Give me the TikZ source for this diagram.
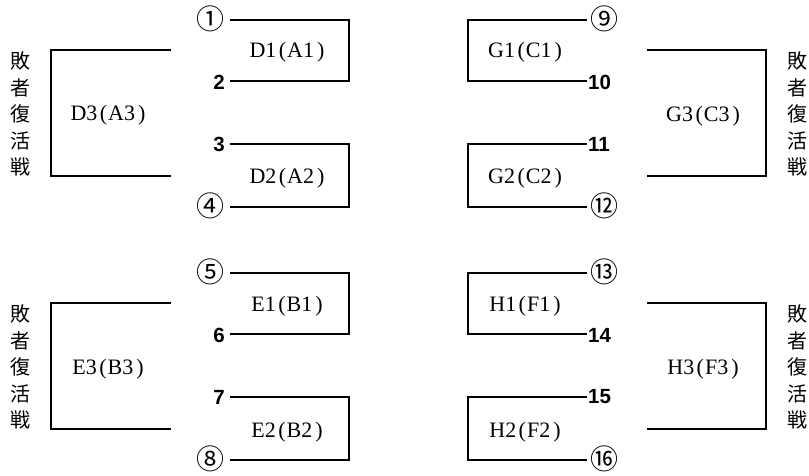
\documentclass[tikz,border=0pt]{standalone}
\usepackage{fontspec}
\setmainfont{Liberation Serif}
\newfontfamily\cjk{Noto Sans CJK JP}
\newfontfamily\numf{Liberation Sans}
\newcommand\lpar{\hspace{2.5pt}(\hspace{1pt}}
\newcommand\rpar{\hspace{3pt})}
\begin{document}
\begin{tikzpicture}[x=1pt,y=-1pt,
  br/.style={line width=1.6pt},
  mlab/.style={font=\fontsize{22}{24}\selectfont, inner sep=0pt},
  numl/.style={font=\numf\bfseries\fontsize{20.5}{21}\selectfont, inner sep=1pt},
  circl/.style={font=\cjk\fontsize{28}{28}\selectfont, inner sep=0pt},
  vtext/.style={font=\cjk\fontsize{20}{26.5}\selectfont, align=center, inner sep=0pt}]
\useasboundingbox (0,0) rectangle (809,476);

% ---------- top-left: D ----------
\coordinate (p1) at (230,20);  \coordinate (p2) at (230,81);
\coordinate (p3) at (230,144); \coordinate (p4) at (230,207);
\node[circl, anchor=east] (l1) at (225,19) {①};
\node[numl, anchor=east] (l2) at (226,82) {2};
\node[numl, anchor=east] (l3) at (226,144) {3};
\node[circl, anchor=east] (l4) at (225,206) {④};
\draw[br] (p1) -- (349,20) |- (p2);
\draw[br] (p3) -- (349,144) |- (p4);
\coordinate (d3a) at (171,50); \coordinate (d3b) at (171,176);
\draw[br] (d3a) -- (51,50) |- (d3b);
\node[mlab] (d1) at (287,52) {D1\lpar A1\rpar};
\node[mlab] (d2) at (287,178) {D2\lpar A2\rpar};
\node[mlab] (d3) at (108,115) {D3\lpar A3\rpar};
\node[vtext] (vd) at (20,114) {敗\\者\\復\\活\\戦};

% ---------- bottom-left: E ----------
\coordinate (p5) at (230,273); \coordinate (p6) at (230,334);
\coordinate (p7) at (230,397); \coordinate (p8) at (230,460);
\node[circl, anchor=east] (l5) at (225,272) {⑤};
\node[numl, anchor=east] (l6) at (226,335) {6};
\node[numl, anchor=east] (l7) at (226,397) {7};
\node[circl, anchor=east] (l8) at (225,459) {⑧};
\draw[br] (p5) -- (349,273) |- (p6);
\draw[br] (p7) -- (349,397) |- (p8);
\coordinate (e3a) at (171,303); \coordinate (e3b) at (171,429);
\draw[br] (e3a) -- (51,303) |- (e3b);
\node[mlab] (e1) at (287,306) {E1\lpar B1\rpar};
\node[mlab] (e2) at (287,432) {E2\lpar B2\rpar};
\node[mlab] (e3) at (108,369) {E3\lpar B3\rpar};
\node[vtext] (ve) at (20,367) {敗\\者\\復\\活\\戦};

% ---------- top-right: G ----------
\coordinate (p9) at (587,20);  \coordinate (p10) at (587,81);
\coordinate (p11) at (587,144); \coordinate (p12) at (587,207);
\node[circl, anchor=west] (l9) at (590,19) {⑨};
\node[numl, anchor=west] (l10) at (587,82) {10};
\node[numl, anchor=west] (l11) at (587,144) {11};
\node[circl, anchor=west] (l12) at (590,206) {⑫};
\draw[br] (p9) -- (468,20) |- (p10);
\draw[br] (p11) -- (468,144) |- (p12);
\coordinate (g3a) at (647,50); \coordinate (g3b) at (647,176);
\draw[br] (g3a) -- (766,50) |- (g3b);
\node[mlab] (g1) at (525,52) {G1\lpar C1\rpar};
\node[mlab] (g2) at (525,178) {G2\lpar C2\rpar};
\node[mlab] (g3) at (703,116) {G3\lpar C3\rpar};
\node[vtext] (vg) at (797,114) {敗\\者\\復\\活\\戦};

% ---------- bottom-right: H ----------
\coordinate (p13) at (587,273); \coordinate (p14) at (587,334);
\coordinate (p15) at (587,397); \coordinate (p16) at (587,460);
\node[circl, anchor=west] (l13) at (590,272) {⑬};
\node[numl, anchor=west] (l14) at (587,335) {14};
\node[numl, anchor=west] (l15) at (587,397) {15};
\node[circl, anchor=west] (l16) at (590,459) {⑯};
\draw[br] (p13) -- (468,273) |- (p14);
\draw[br] (p15) -- (468,397) |- (p16);
\coordinate (h3a) at (647,303); \coordinate (h3b) at (647,429);
\draw[br] (h3a) -- (766,303) |- (h3b);
\node[mlab] (h1) at (525,306) {H1\lpar F1\rpar};
\node[mlab] (h2) at (525,432) {H2\lpar F2\rpar};
\node[mlab] (h3) at (703,369) {H3\lpar F3\rpar};
\node[vtext] (vh) at (797,367) {敗\\者\\復\\活\\戦};
\end{tikzpicture}
\end{document}
